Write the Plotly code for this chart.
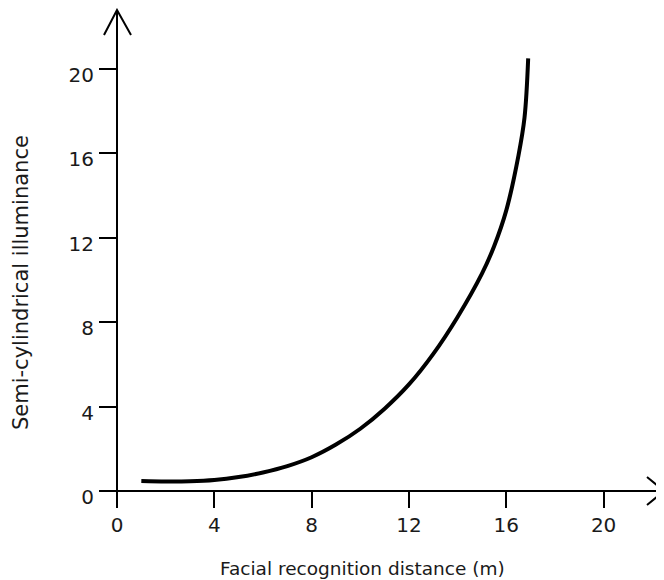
import plotly.graph_objects as go

# =====================================================
# Data
# =====================================================

distance = [1, 2, 3, 4, 5, 6, 7, 8, 9, 10, 11, 12, 13, 14, 15,
            15.5, 16, 16.5, 16.75, 16.9]
illuminance = [0.47, 0.45, 0.46, 0.52, 0.66, 0.88, 1.18, 1.6, 2.2, 2.95,
               3.9, 5.05, 6.5, 8.25, 10.3, 11.6, 13.3, 15.9, 17.7, 20.5]

tick_vals = [0, 4, 8, 12, 16, 20]

# =====================================================
# Geometry (page pixels; the page body adds an 8px margin)
# =====================================================

OFF = 8
W, H = 664 - OFF, 580 - OFF
L, R, T, B = 117 - OFF, 0, 10 - OFF, 580 - 491
PW, PH = W - L - R, H - T - B


def px(x):
    return (x - OFF - L) / PW


def py(y):
    return (H - B - (y - OFF)) / PH


FONT = "DejaVu Sans"
TXT = "#1a1a1a"

fig = go.Figure()

fig.add_trace(
    go.Scatter(
        x=distance,
        y=illuminance,
        mode="lines",
        line=dict(color="black", width=4, shape="spline", smoothing=1.0),
        hoverinfo="skip",
        showlegend=False,
        cliponaxis=False,
    )
)

# =====================================================
# Axis lines and arrows
# =====================================================

line = dict(color="black", width=2)
shapes = [
    dict(type="line", xref="paper", yref="paper",
         x0=px(117), x1=px(117), y0=py(507), y1=py(10), line=line),
    dict(type="path", xref="paper", yref="paper",
         path=f"M {px(104)},{py(35)} L {px(117)},{py(10)} L {px(131)},{py(35)}",
         line=line),
    dict(type="line", xref="paper", yref="paper",
         x0=px(100), x1=px(664), y0=py(491), y1=py(491), line=line),
    dict(type="path", xref="paper", yref="paper",
         path=f"M {px(647)},{py(477)} L {px(664)},{py(491)} L {px(647)},{py(505)}",
         line=line),
]

fig.update_layout(
    width=W,
    height=H,
    margin=dict(l=L, r=R, t=T, b=B, pad=0),
    paper_bgcolor="white",
    plot_bgcolor="white",
    font=dict(family=FONT, size=19, color=TXT),
    shapes=shapes,
    showlegend=False,
    annotations=[
        dict(
            text="Facial recognition distance (m)",
            xref="paper", yref="paper",
            x=px(362), y=py(568),
            xanchor="center", yanchor="middle",
            showarrow=False,
            font=dict(family=FONT, size=18.5, color=TXT),
        ),
        dict(
            text="Semi-cylindrical illuminance",
            xref="paper", yref="paper",
            x=px(8), y=py(283),
            xanchor="left", yanchor="middle",
            textangle=-90,
            showarrow=False,
            borderpad=0,
            font=dict(family=FONT, size=21, color=TXT),
        ),
    ],
)

fig.update_xaxes(
    range=[0, PW / 24.33],
    tickvals=tick_vals,
    ticks="outside",
    ticklen=16,
    tickwidth=2,
    tickcolor="black",
    tickfont=dict(family=FONT, size=20, color=TXT),
    showgrid=False,
    zeroline=False,
    showline=False,
    fixedrange=True,
)

fig.update_yaxes(
    range=[0, PH / 21.1],
    tickvals=tick_vals,
    ticks="outside",
    ticklen=17,
    tickwidth=2,
    tickcolor="black",
    tickfont=dict(family=FONT, size=20, color=TXT),
    ticklabelshift=6,
    ticklabelstandoff=1,
    showgrid=False,
    zeroline=False,
    showline=False,
    fixedrange=True,
)

fig.write_html("out.html", config={"displayModeBar": False})
